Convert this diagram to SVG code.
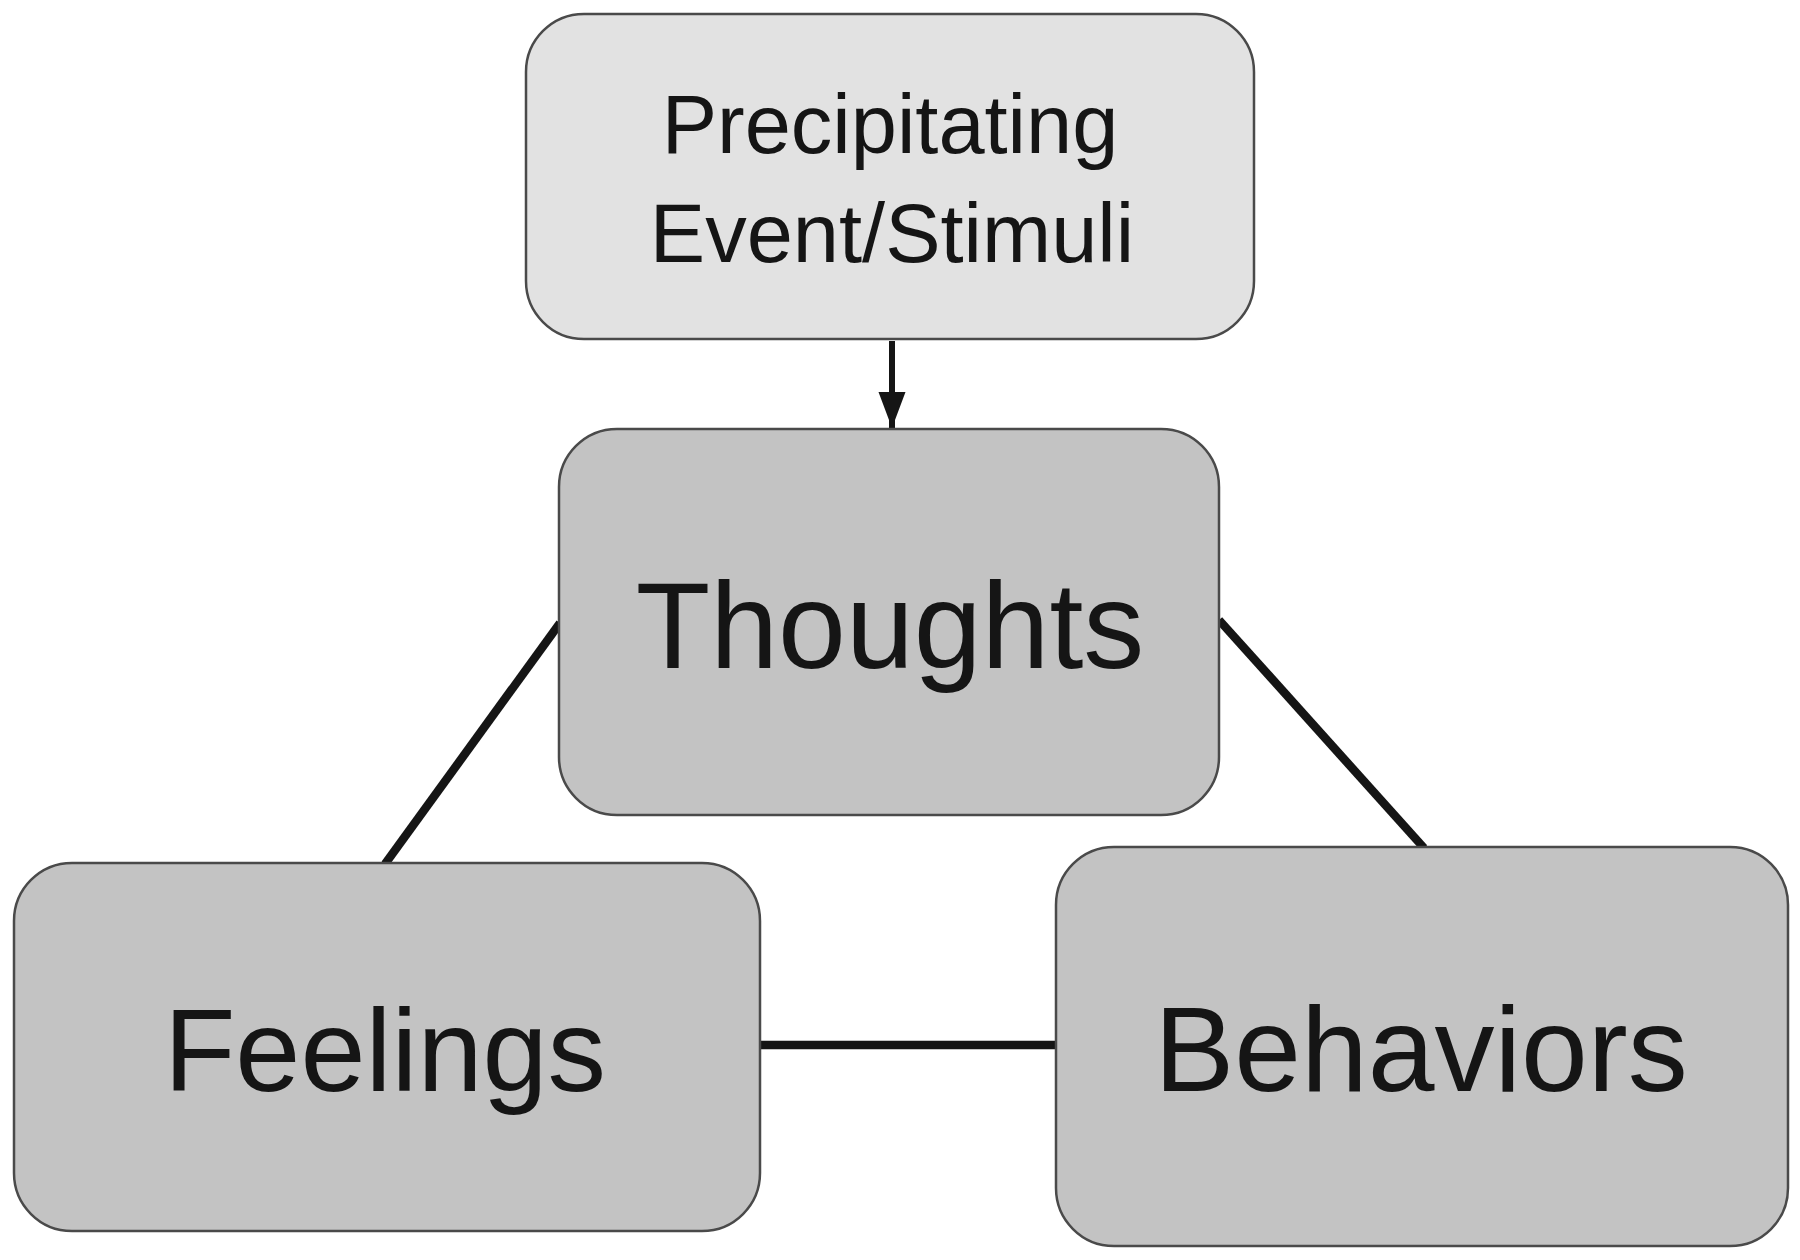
<svg xmlns="http://www.w3.org/2000/svg" width="1800" height="1260" viewBox="0 0 1800 1260">
<defs>
<style>
.box{stroke:#4a4a4a;stroke-width:2.5}
.light{fill:#e2e2e2}
.dark{fill:#c3c3c3}
.lbl{font-family:"Liberation Sans",Arial,sans-serif;fill:#151515;text-anchor:middle}
.conn{stroke:#151515;stroke-width:8.5;fill:none}
.flow{stroke:#151515;stroke-width:6;fill:none}
</style>
<marker id="arr" viewBox="0 0 10 7.5" refX="10" refY="3.75" markerWidth="6" markerHeight="4.6" orient="auto" markerUnits="strokeWidth">
<path d="M0,0 L10,3.75 L0,7.5 z" fill="#151515"/>
</marker>
</defs>
<rect width="1800" height="1260" fill="#ffffff"/>
<g id="connectors">
<line class="flow" x1="892" y1="341" x2="892" y2="428" marker-end="url(#arr)"/>
<line class="conn" x1="560" y1="623" x2="385" y2="864"/>
<line class="conn" x1="1219" y1="620" x2="1424" y2="848"/>
<line class="conn" x1="760" y1="1045" x2="1056" y2="1045"/>
</g>
<g id="node-precipitating">
<rect class="box light" x="526" y="14" width="728" height="325" rx="58" ry="58"/>
<text class="lbl" x="890" y="153" font-size="83">Precipitating</text>
<text class="lbl" x="892" y="262" font-size="83">Event/Stimuli</text>
</g>
<g id="node-thoughts">
<rect class="box dark" x="559" y="429" width="660" height="386" rx="58" ry="58"/>
<text class="lbl" x="890" y="668" font-size="122">Thoughts</text>
</g>
<g id="node-feelings">
<rect class="box dark" x="14" y="863" width="746" height="368" rx="58" ry="58"/>
<text class="lbl" x="385" y="1091" font-size="117">Feelings</text>
</g>
<g id="node-behaviors">
<rect class="box dark" x="1056" y="847" width="732" height="399" rx="58" ry="58"/>
<text class="lbl" x="1421" y="1091" font-size="120">Behaviors</text>
</g>
</svg>
